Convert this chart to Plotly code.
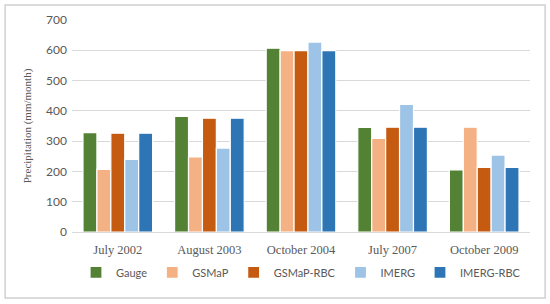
import plotly.graph_objects as go

events = ["July 2002", "August 2003", "October 2004", "July 2007", "October 2009"]
gauge = [328, 382, 607, 345, 205]
gsmap = [207, 248, 599, 309, 346]
gsmap_rbc = [326, 376, 599, 346, 213]
imerg = [240, 277, 627, 421, 254]
imerg_rbc = [326, 376, 599, 346, 213]

series = [
    ("Gauge", gauge, "#548235"),
    ("GSMaP", gsmap, "#F4B183"),
    ("GSMaP-RBC", gsmap_rbc, "#C55A11"),
    ("IMERG", imerg, "#9DC3E6"),
    ("IMERG-RBC", imerg_rbc, "#2E75B6"),
]

fig = go.Figure()
for name, vals, col in series:
    fig.add_trace(go.Bar(x=events, y=vals, name=name,
                         marker=dict(color=col, line=dict(color="white", width=1.2))))

serif = "Liberation Serif, DejaVu Serif, serif"
sans = "Lato, Open Sans, sans-serif"

fig.update_layout(
    width=550, height=304,
    margin=dict(l=72, r=20, t=20, b=72),
    paper_bgcolor="white", plot_bgcolor="white",
    barmode="group", bargap=0.24, bargroupgap=0,
    showlegend=True,
    legend=dict(orientation="h", x=0.5, xanchor="center", y=-0.19, yanchor="middle",
                font=dict(family=sans, size=11, color="#595959"),
                itemwidth=30, tracegroupgap=0, entrywidth=0),
    xaxis=dict(tickfont=dict(family=serif, size=12.5, color="#595959"),
               showline=True, linecolor="#d9d9d9", linewidth=1, ticks="",
               ticklabelstandoff=6),
    yaxis=dict(range=[0, 700], dtick=100, showgrid=True, gridcolor="#d9d9d9",
               zeroline=False, tickfont=dict(family=sans, size=12, color="#595959"),
               ticklabelstandoff=4,
               title=dict(text="Precipitation (mm/month)", standoff=12,
                          font=dict(family=serif, size=11, color="#595959"))),
    shapes=[dict(type="rect", xref="paper", yref="paper",
                 x0=-0.146, x1=1.033, y0=-0.311, y1=1.071,
                 line=dict(color="#d0d0d0", width=1.5))],
)

fig.write_html("out.html", config={"displayModeBar": False},
               post_script="document.body.style.margin='0';")
